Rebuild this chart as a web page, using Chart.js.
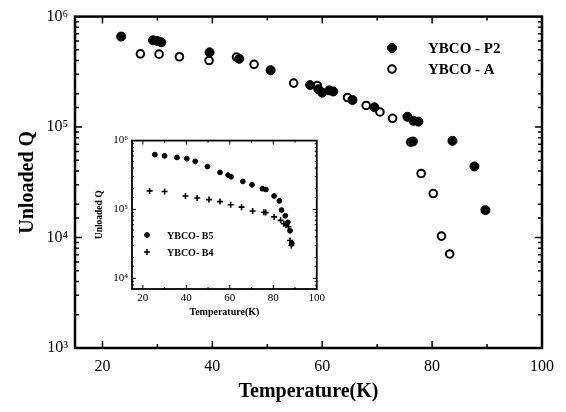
<!DOCTYPE html>
<html>
<head>
<meta charset="utf-8">
<script src="https://cdn.jsdelivr.net/npm/chart.js@4.4.1/dist/chart.umd.min.js"></script>
<style>
  body { margin: 0; background: #fff; }
  #wrap { position: relative; width: 566px; height: 412px; }
  #mainChart { position: absolute; left: 0; top: 0; }
  #insetChart { position: absolute; left: 88px; top: 130px; }
</style>
</head>
<body>
<div id="wrap">
  <canvas id="mainChart" width="566" height="412"></canvas>
  <canvas id="insetChart" width="240" height="200"></canvas>
</div>
<script>
// main plot: YBCO - P2 (filled) and YBCO - A (open)
var p2Temp = [23.4, 29.2, 30.0, 30.7, 39.5, 44.9, 50.6, 57.8, 59.3, 60.0, 61.3, 62.0, 65.5, 69.5, 75.5, 76.6, 77.5, 76.5, 83.7, 87.7, 89.7];
var p2Q = [6.6e5, 6.1e5, 6.0e5, 5.85e5, 4.75e5, 4.15e5, 3.27e5, 2.4e5, 2.2e5, 2.05e5, 2.15e5, 2.1e5, 1.76e5, 1.51e5, 1.24e5, 1.14e5, 1.12e5, 7.4e4, 7.5e4, 4.4e4, 1.77e4];
var aTemp = [26.9, 30.3, 34.0, 39.4, 44.4, 47.6, 54.8, 59.1, 64.6, 68.0, 70.5, 72.8, 76.1, 78.0, 80.2, 81.7, 83.2];
var aQ = [4.6e5, 4.57e5, 4.33e5, 4.0e5, 4.3e5, 3.7e5, 2.5e5, 2.38e5, 1.85e5, 1.57e5, 1.37e5, 1.2e5, 7.3e4, 3.8e4, 2.5e4, 1.03e4, 7.1e3];

// inset: YBCO- B5 (dots) and YBCO- B4 (crosses)
var b5Temp = [25.5, 30.0, 35.7, 40.2, 44.1, 49.7, 55.5, 59.2, 60.6, 66.0, 70.2, 75.0, 76.6, 80.4, 82.8, 83.8, 85.5, 86.7, 87.7, 88.5];
var b5Q = [6.26e5, 6.0e5, 5.7e5, 5.46e5, 5.0e5, 4.2e5, 3.45e5, 3.16e5, 2.98e5, 2.55e5, 2.28e5, 2.0e5, 1.95e5, 1.57e5, 1.33e5, 9.8e4, 8.1e4, 6.5e4, 4.9e4, 3.2e4];
var b4Temp = [23.1, 30.0, 39.6, 45.0, 50.4, 55.5, 60.4, 65.4, 70.5, 75.7, 76.5, 80.4, 83.4, 84.9, 85.8, 87.0, 87.7, 88.3];
var b4Q = [1.86e5, 1.82e5, 1.57e5, 1.47e5, 1.39e5, 1.3e5, 1.17e5, 1.08e5, 9.5e4, 9.1e4, 9.0e4, 7.8e4, 6.95e4, 6.2e4, 5.9e4, 5.6e4, 3.55e4, 3.0e4];

// tick labels / tick positions
var xTicks = [20, 30, 40, 50, 60, 70, 80, 90, 100];
var xLabels = [20, 40, 60, 80, 100];
var yDecades = [3, 4, 5, 6];
var sup = {3: '\u00B3', 4: '\u2074', 5: '\u2075', 6: '\u2076'};

var serif = "'Liberation Serif', 'Times New Roman', serif";

function toPoints(xs, ys) {
  return xs.map(function(x, i) { return {x: x, y: ys[i]}; });
}

function decadeOf(v) {
  var e = Math.round(Math.log10(v));
  return Math.abs(Math.pow(10, e) - v) < 1e-6 * v ? e : null;
}

function yLabel(v) {
  var e = decadeOf(v);
  return (e !== null && yDecades.indexOf(e) >= 0) ? '10' + sup[e] : '';
}

function xLabel(v) {
  return xLabels.indexOf(v) >= 0 ? String(v) : '';
}

function setXTicks(s) {
  s.ticks = xTicks.map(function(v) { return {value: v}; });
}

// frame with inward ticks on all four sides, plus a small legend
var frameTicks = {
  id: 'frameTicks',
  afterDraw: function(chart, args, o) {
    var ctx = chart.ctx, a = chart.chartArea;
    var x = chart.scales.x, y = chart.scales.y;
    ctx.save();
    ctx.strokeStyle = '#000';
    ctx.lineWidth = o.tickWidth;
    ctx.beginPath();
    x.ticks.forEach(function(t) {
      var px = x.getPixelForValue(t.value);
      if (px <= a.left + 1 || px >= a.right - 1) return;
      var len = xLabels.indexOf(t.value) >= 0 ? o.major : o.minor;
      ctx.moveTo(px, a.bottom); ctx.lineTo(px, a.bottom - len);
      ctx.moveTo(px, a.top); ctx.lineTo(px, a.top + len);
    });
    y.ticks.forEach(function(t) {
      var py = y.getPixelForValue(t.value);
      if (py <= a.top + 1 || py >= a.bottom - 1) return;
      var len = decadeOf(t.value) !== null ? o.major : o.minor;
      ctx.moveTo(a.left, py); ctx.lineTo(a.left + len, py);
      ctx.moveTo(a.right, py); ctx.lineTo(a.right - len, py);
    });
    ctx.stroke();
    ctx.lineWidth = o.frame;
    ctx.strokeRect(a.left, a.top, a.width, a.height);

    // legend
    ctx.font = o.legendFont;
    ctx.textBaseline = 'middle';
    ctx.textAlign = 'left';
    chart.data.datasets.forEach(function(ds, i) {
      var ly = o.legendY + i * o.legendGap;
      ctx.fillStyle = ds.backgroundColor;
      ctx.strokeStyle = ds.borderColor;
      ctx.lineWidth = ds.borderWidth;
      Chart.helpers.drawPoint(ctx, {pointStyle: ds.pointStyle, radius: ds.pointRadius, rotation: 0, borderWidth: ds.borderWidth}, o.legendX, ly);
      ctx.fillStyle = '#000';
      ctx.fillText(ds.label, o.legendX + o.textGap, ly + 1);
    });
    ctx.restore();
  }
};

new Chart(document.getElementById('mainChart'), {
  type: 'scatter',
  data: {
    datasets: [{
      label: 'YBCO - P2',
      data: toPoints(p2Temp, p2Q),
      pointStyle: 'circle',
      pointRadius: 4.5,
      backgroundColor: '#000',
      borderColor: '#000',
      borderWidth: 1
    }, {
      label: 'YBCO - A',
      data: toPoints(aTemp, aQ),
      pointStyle: 'circle',
      pointRadius: 3.8,
      backgroundColor: '#fff',
      borderColor: '#000',
      borderWidth: 2
    }]
  },
  options: {
    responsive: false,
    animation: false,
    layout: {padding: {top: 13, right: 24, left: 0, bottom: 0}},
    plugins: {
      legend: {display: false},
      tooltip: {enabled: false},
      frameTicks: {
        tickWidth: 1.5, major: 7, minor: 4, frame: 2.5,
        legendX: 392, legendY: 48, legendGap: 21, textGap: 36,
        legendFont: 'bold 15px ' + serif
      }
    },
    scales: {
      x: {
        type: 'linear', min: 15, max: 100,
        afterBuildTicks: setXTicks,
        afterFit: function(s) { s.height = 64; },
        grid: {display: false, drawTicks: false},
        border: {display: false},
        ticks: {autoSkip: false, maxRotation: 0, padding: 9, color: '#000',
                font: {family: serif, size: 16}, callback: xLabel},
        title: {display: true, text: 'Temperature(K)', color: '#000',
                font: {family: serif, size: 20, weight: 'bold'}, padding: {bottom: 8}}
      },
      y: {
        type: 'logarithmic', min: 1e3, max: 1e6,
        afterFit: function(s) { s.width = 75; },
        grid: {display: false, drawTicks: false},
        border: {display: false},
        ticks: {autoSkip: false, padding: 7, color: '#000',
                font: {family: serif, size: 16}, callback: yLabel},
        title: {display: true, text: 'Unloaded Q', color: '#000',
                font: {family: serif, size: 20, weight: 'bold'}, padding: {top: 16}}
      }
    }
  },
  plugins: [frameTicks]
});

new Chart(document.getElementById('insetChart'), {
  type: 'scatter',
  data: {
    datasets: [{
      label: 'YBCO- B5',
      data: toPoints(b5Temp, b5Q),
      pointStyle: 'circle',
      pointRadius: 2.4,
      backgroundColor: '#000',
      borderColor: '#000',
      borderWidth: 1
    }, {
      label: 'YBCO- B4',
      data: toPoints(b4Temp, b4Q),
      pointStyle: 'cross',
      pointRadius: 3,
      backgroundColor: '#000',
      borderColor: '#000',
      borderWidth: 1.6
    }]
  },
  options: {
    responsive: false,
    animation: false,
    layout: {padding: {top: 10, right: 6, left: 0, bottom: 0}},
    plugins: {
      legend: {display: false},
      tooltip: {enabled: false},
      frameTicks: {
        tickWidth: 1, major: 4, minor: 2, frame: 1.8,
        legendX: 59, legendY: 105, legendGap: 17, textGap: 20,
        legendFont: 'bold 10px ' + serif
      }
    },
    scales: {
      x: {
        type: 'linear', min: 15, max: 100,
        afterBuildTicks: setXTicks,
        afterFit: function(s) { s.height = 41; },
        grid: {display: false, drawTicks: false},
        border: {display: false},
        ticks: {autoSkip: false, maxRotation: 0, padding: 3, color: '#000',
                font: {family: serif, size: 11}, callback: xLabel},
        title: {display: true, text: 'Temperature(K)', color: '#000',
                font: {family: serif, size: 10, weight: 'bold'}, padding: {bottom: 12}}
      },
      y: {
        type: 'logarithmic', min: 7e3, max: 1e6,
        afterFit: function(s) { s.width = 44; },
        grid: {display: false, drawTicks: false},
        border: {display: false},
        ticks: {autoSkip: false, padding: 4, color: '#000',
                font: {family: serif, size: 11}, callback: yLabel},
        title: {display: true, text: 'Unloaded Q', color: '#000',
                font: {family: serif, size: 9.5, weight: 'bold'}, padding: {top: 6}}
      }
    }
  },
  plugins: [frameTicks]
});
</script>
</body>
</html>
